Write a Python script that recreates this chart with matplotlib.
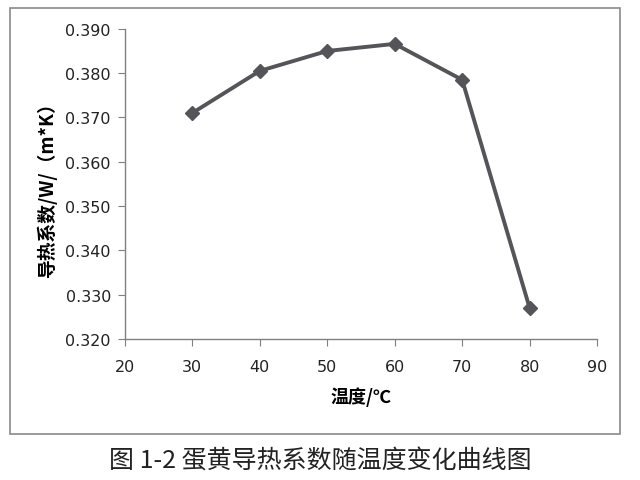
import numpy as np
import matplotlib.pyplot as plt
from matplotlib.patches import Rectangle

plt.rcParams['font.family'] = ['DejaVu Sans', 'Noto Sans CJK SC']

# data
temps = [30, 40, 50, 60, 70, 80]
conductivity = [0.371, 0.3805, 0.385, 0.3866, 0.3785, 0.327]
xticks = [20, 30, 40, 50, 60, 70, 80, 90]
yticks = [0.320, 0.330, 0.340, 0.350, 0.360, 0.370, 0.380, 0.390]

fig = plt.figure(figsize=(6.4, 4.81), dpi=100)
ax = fig.add_axes([0.195, 0.293, 0.738, 0.645])

# outer frame around the chart
fig.patches.append(Rectangle((0.0156, 0.0956), 0.953, 0.886, transform=fig.transFigure,
                             fill=False, edgecolor='#8a8a8a', linewidth=1.2))

ax.plot(temps, conductivity, color='#555559', linewidth=2.8,
        marker='D', markersize=7.5, markerfacecolor='#555559', markeredgecolor='#555559')

ax.set_xlim(20, 90)
ax.set_ylim(0.320, 0.390)
ax.set_xticks(xticks)
ax.set_yticks(yticks)
ax.set_yticklabels(['%.3f' % v for v in yticks])

for s in ['top', 'right']:
    ax.spines[s].set_visible(False)
for s in ['left', 'bottom']:
    ax.spines[s].set_color('#808080')
    ax.spines[s].set_linewidth(1.0)
ax.tick_params(direction='out', length=5, color='#808080', labelsize=11.5, labelcolor='#222222')
ax.tick_params(axis='x', pad=9)
ax.tick_params(axis='y', pad=5)

ax.set_xlabel('温度/℃', fontsize=13, fontweight='bold',
              family=['Noto Sans CJK SC', 'DejaVu Sans'], labelpad=9)
ax.set_ylabel('导热系数/W/（m*K）', fontsize=13.5, fontweight='bold',
              family=['Noto Sans CJK SC', 'DejaVu Sans'], labelpad=6)

fig.text(0.5, 0.04, '图 1-2 蛋黄导热系数随温度变化曲线图', ha='center', va='center',
         fontsize=18, color='#222222', family=['Noto Sans CJK SC', 'DejaVu Sans'])

fig.savefig('out.png', dpi=100)
